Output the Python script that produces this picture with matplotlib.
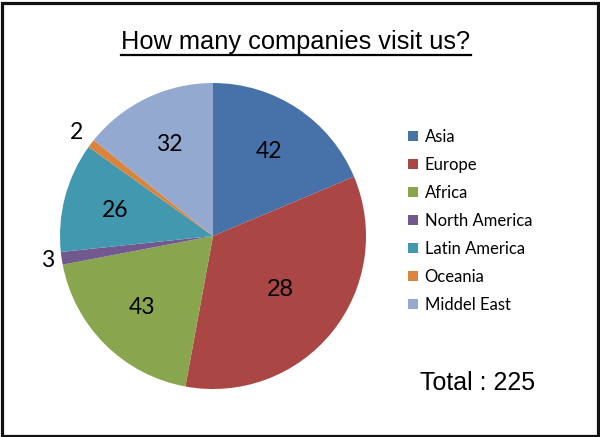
import numpy as np
import matplotlib
matplotlib.use('Agg')
import matplotlib.pyplot as plt
from matplotlib.patches import Rectangle
from matplotlib.lines import Line2D

regions = ['Asia', 'Europe', 'Africa', 'North America', 'Latin America', 'Oceania', 'Middel East']
visits = [42, 77, 43, 3, 26, 2, 32]
# the labels printed on the slices (Europe's label does not match its slice)
slice_labels = ['42', '28', '43', '3', '26', '2', '32']
total = 225

colours = ['#4672A9', '#AA4643', '#89A54E', '#71588F', '#4198AF', '#DB843D', '#93A9CF']
label_dist = [0.66, 0.56, 0.66, 1.09, 0.66, 1.12, 0.66]

fig = plt.figure(figsize=(6.0, 4.37), dpi=100)
W, H = 600, 437

# pie: centre (213, 236) px, radius 153 px
ax = fig.add_axes([(213 - 153) / W, (H - 236 - 153) / H, 306 / W, 306 / H])
wedges, _ = ax.pie(visits, colors=colours, startangle=90, counterclock=False,
                   radius=1.0, wedgeprops={'linewidth': 0})
ax.set_xlim(-1, 1)
ax.set_ylim(-1, 1)
ax.set_aspect('equal')
ax.axis('off')

for w, lab, d in zip(wedges, slice_labels, label_dist):
    ang = np.deg2rad((w.theta1 + w.theta2) / 2)
    x, y = d * np.cos(ang), d * np.sin(ang)
    if lab == '28':
        ax.text(x, y, lab, ha='center', va='center', fontsize=17.5, family='Liberation Sans')
    else:
        ax.text(x, y, lab, ha='center', va='center', fontsize=16.5, family='Lato')

leg = fig.legend(wedges, regions, loc='upper left', bbox_to_anchor=(408 / W, 1 - 129 / H),
                 frameon=False, prop={'family': 'Lato', 'size': 12},
                 handlelength=0.6, handleheight=0.6, handletextpad=0.4, labelspacing=0.72,
                 borderaxespad=0, borderpad=0)

title = fig.text(296 / W, 1 - 42 / H, 'How many companies visit us?', ha='center', va='center',
                 fontsize=18.3, family='Liberation Sans')
fig.canvas.draw()
bb = title.get_window_extent().transformed(fig.transFigure.inverted())
fig.add_artist(Line2D([bb.x0, bb.x1], [1 - 55 / H, 1 - 55 / H], color='black', linewidth=1.6,
                      transform=fig.transFigure))

fig.text(478 / W, 1 - 383 / H, f'Total : {total}', ha='center', va='center',
         fontsize=18, family='Liberation Sans')

fig.add_artist(Rectangle((1.5 / W, 1.5 / H), 1 - 4 / W, 1 - 4 / H, fill=False,
                         edgecolor='#111111', linewidth=2.3, transform=fig.transFigure))

fig.savefig('out.png', dpi=100)
